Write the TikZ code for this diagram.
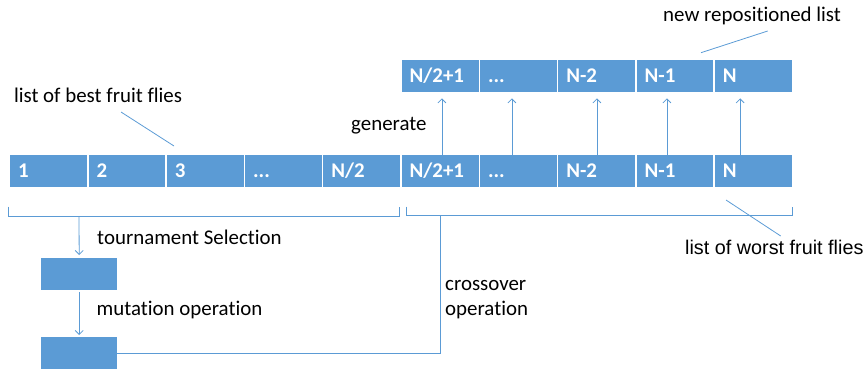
\documentclass[tikz,border=0pt]{standalone}
\usepackage{fontspec}
\setmainfont{Carlito}[Ligatures=NoCommon]
\newfontfamily\arialf{Liberation Sans}
\usetikzlibrary{arrows.meta,calc}
\definecolor{cellblue}{HTML}{5B9BD5}
\definecolor{lineblue}{HTML}{5B9BD5}
\newcommand\fsz{\fontsize{20.9}{25}\selectfont}
\tikzset{
  cell/.style={fill=cellblue, draw=none, anchor=north west, minimum width=76.8pt,
    minimum height=32pt, text width=60.8pt, inner xsep=8pt, inner ysep=0pt,
    text height=13.3pt, text depth=0pt, align=left, text=white, font=\bfseries\fsz},
  smallcell/.style={fill=cellblue, draw=none, anchor=north west, minimum width=76pt,
    minimum height=32.3pt, inner sep=0pt},
  lbl/.style={anchor=base west, inner sep=0pt, font=\fsz, text=black},
  arlbl/.style={anchor=base west, inner sep=0pt, font=\arialf\fontsize{19.8}{24}\selectfont, text=black},
  conn/.style={draw=lineblue, line width=0.8pt},
  arr/.style={conn, -{Straight Barb[length=4pt,width=8pt]}}
}
\begin{document}
\begin{tikzpicture}[x=1pt,y=-1pt]
\useasboundingbox (0,0) rectangle (865,372);
% bottom row
\node[cell] (b1) at (10,155) {1};
\node[cell] (b2) at (88.3,155) {2};
\node[cell] (b3) at (166.6,155) {3};
\node[cell] (b4) at (244.9,155) {...};
\node[cell] (b5) at (323.2,155) {N/2};
\node[cell] (b6) at (401.5,155) {N/2+1};
\node[cell] (b7) at (479.8,155) {...};
\node[cell] (b8) at (558.1,155) {N-2};
\node[cell] (b9) at (636.4,155) {N-1};
\node[cell] (b10) at (714.7,155) {N};
% top row
\node[cell] (t6) at (401.5,60) {N/2+1};
\node[cell] (t7) at (479.8,60) {...};
\node[cell] (t8) at (558.1,60) {N-2};
\node[cell] (t9) at (636.4,60) {N-1};
\node[cell] (t10) at (714.7,60) {N};
% generate arrows
\draw[arr] ([xshift=1.8pt]b6.north) -- ([xshift=1.8pt,yshift=-6pt]t6.south);
\draw[arr] ([xshift=-6.5pt]b7.north) -- ([xshift=-6.5pt,yshift=-6pt]t7.south);
\draw[arr] ([xshift=0.2pt]b8.north) -- ([xshift=0.2pt,yshift=-6pt]t8.south);
\draw[arr] ([xshift=-8.1pt]b9.north) -- ([xshift=-8.1pt,yshift=-6pt]t9.south);
\draw[arr] ([xshift=-13.1pt]b10.north) -- ([xshift=-13.1pt,yshift=-6pt]t10.south);
% brackets
\draw[conn] (8.3,206.7) -- (8.3,216) -- (399.3,216) -- (399.3,206.7);
\draw[conn] (406,206.7) -- (406,215.7) -- (792.3,215.7) -- (792.3,206.7);
\coordinate (lb) at (79,216);
\coordinate (rb) at (440,215.7);
% small boxes
\node[smallcell] (m1) at (41,257.7) {};
\node[smallcell] (m2) at (41,336.7) {};
\draw[arr] (lb) -- ([yshift=2.7pt]m1.north);
\draw[arr] ([yshift=-1.7pt]m1.south) -- ([yshift=1.7pt]m2.north);
\draw[conn] (m2.east) -| (rb);
% labels
\node[lbl] (best) at (13.8,102.7) {list of best fruit flies};
\node[lbl] (gen) at (351,130.7) {generate};
\node[lbl] (newl) at (663,21.7) {new repositioned list};
\node[lbl] (tour) at (97,244) {tournament Selection};
\node[lbl] (mut) at (96.5,315) {mutation operation};
\node[lbl] (cross1) at (445,290) {crossover};
\node[lbl] (cross2) at (445,315) {operation};
\node[arlbl] (worst) at (685,254) {list of worst fruit flies};
% leader lines
\coordinate (bestA) at (121,112);
\coordinate (bestB) at (174,146);
\coordinate (newA) at (701,52.7);
\coordinate (newB) at (767.7,31);
\coordinate (worstA) at (726,200);
\coordinate (worstB) at (780.7,236);
\draw[conn] (bestA) -- (bestB);
\draw[conn] (newA) -- (newB);
\draw[conn] (worstA) -- (worstB);
\end{tikzpicture}
\end{document}
